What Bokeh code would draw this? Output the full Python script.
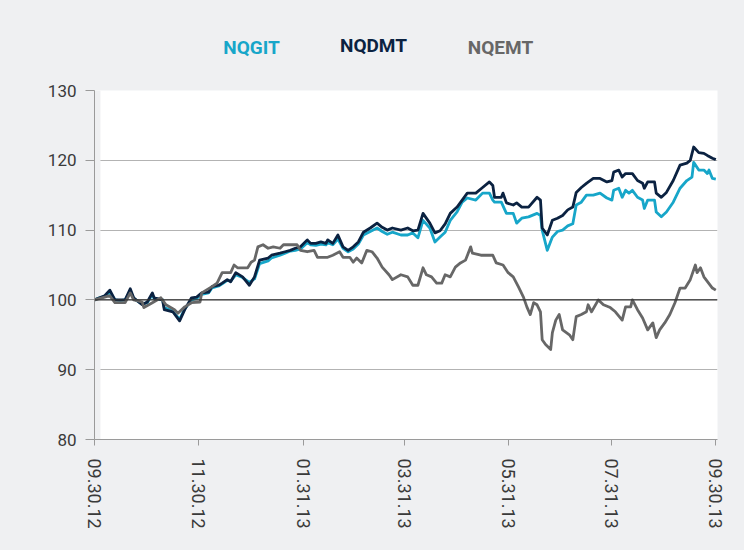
from bokeh.plotting import figure
from bokeh.layouts import column
from bokeh.models import Range1d, FixedTicker, Span, BoxAnnotation
from bokeh.core.properties import value
from bokeh.embed import file_html
from bokeh.resources import INLINE

# ---- data (day offset from 09.30.12, index value) ----
tick_days = [0, 61, 123, 182, 243, 304, 365]
tick_labels = ["09.30.12", "11.30.12", "01.31.13", "03.31.13", "05.31.13", "07.31.13", "09.30.13"]
y_ticks = [80, 90, 100, 110, 120, 130]

series_names = ["NQGIT", "NQDMT", "NQEMT"]

nqdmt = [(0,100.0),(3,100.3),(6,100.6),(9,101.4),(12,100.0),(15,100.0),(18,100.0),(21,101.6),(23,100.3),
         (28,99.3),(31,99.7),(34,101.0),(35,100.3),(40,100.0),(41,98.6),(46,98.3),(50,97.0),(53,98.6),
         (57,100.3),(60,100.4),(63,101.0),(67,101.1),(69,101.9),(73,102.1),(75,102.4),(78,102.9),(80,102.6),
         (83,103.9),(87,103.3),(91,102.1),(94,103.3),(97,105.7),(102,106.0),(104,106.4),(109,106.7),
         (112,106.9),(115,107.1),(118,107.4),(121,107.6),(125,108.6),(127,108.1),(130,108.1),(133,108.3),
         (136,108.1),(137,108.6),(140,108.1),(143,109.3),(146,107.6),(149,107.1),(152,107.6),(155,108.3),
         (158,109.7),(162,110.3),(166,111.0),(169,110.4),(172,110.0),(175,110.3),(180,110.0),(184,110.3),
         (187,109.9),(190,110.0),(193,112.4),(197,111.0),(200,109.6),(203,109.9),(206,110.9),(209,112.4),
         (213,113.3),(216,114.3),(219,115.3),(224,115.3),(228,116.1),(232,116.9),(234,116.4),(235,114.7),
         (239,114.7),(240,115.3),(242,113.9),(246,113.6),(248,113.9),(251,113.3),(255,113.3),(260,114.7),
         (262,114.3),(263,110.3),(266,109.3),(269,111.4),(272,111.7),(275,112.1),(278,112.9),(281,113.3),
         (283,115.4),(286,116.1),(289,116.7),(293,117.4),(297,117.4),(301,116.9),(304,117.1),(305,118.3),
         (308,118.6),(310,117.6),(312,118.1),(316,118.1),(319,117.1),(322,116.7),(323,116.0),(325,116.9),
         (329,116.9),(330,115.3),(333,114.7),(336,115.4),(340,117.1),(344,119.3),(348,119.6),(350,120.0),
         (352,121.9),(355,121.1),(358,121.0),(360,120.7),(363,120.3),(365,120.1)]

nqgit = [(0,100.0),(3,100.3),(6,100.5),(9,101.1),(12,100.0),(15,99.9),(18,100.0),(21,101.3),(23,100.2),
         (28,99.4),(31,99.6),(34,100.8),(35,100.2),(40,100.0),(41,98.9),(46,98.4),(50,97.2),(53,98.7),
         (57,100.0),(60,100.2),(63,100.8),(67,101.0),(69,101.7),(73,102.0),(75,102.3),(78,102.8),(80,102.7),
         (83,103.6),(87,103.2),(91,102.5),(94,103.0),(97,105.2),(102,105.6),(104,106.0),(109,106.4),
         (112,106.7),(115,107.0),(118,107.1),(121,107.3),(125,108.2),(127,107.9),(130,107.8),(133,108.0),
         (136,107.9),(137,108.2),(140,107.9),(143,108.7),(146,107.4),(149,106.9),(152,107.3),(155,108.0),
         (158,109.3),(162,109.8),(166,110.3),(169,109.8),(172,109.4),(175,109.7),(180,109.3),(184,109.3),
         (187,109.6),(190,108.9),(193,111.4),(197,110.3),(200,108.3),(203,109.0),(206,109.7),(209,111.4),
         (213,112.6),(216,114.0),(219,114.6),(224,114.3),(228,115.3),(232,115.3),(234,114.3),(235,114.0),
         (239,114.0),(242,112.4),(246,112.4),(248,111.0),(251,111.7),(255,111.9),(260,112.4),(262,112.1),
         (263,110.0),(266,107.1),(269,109.0),(272,109.8),(275,110.0),(278,110.6),(281,110.9),(283,113.6),
         (286,114.0),(289,115.0),(293,115.0),(297,115.3),(301,114.6),(304,114.3),(305,115.7),(308,116.0),
         (310,114.7),(312,115.7),(314,115.3),(316,115.7),(319,114.7),(322,114.3),(323,113.1),(325,114.3),
         (329,114.3),(330,112.6),(333,111.9),(336,112.6),(340,114.0),(344,116.0),(348,117.1),(351,117.6),
         (352,119.7),(355,118.6),(358,118.6),(360,118.1),(361,118.6),(363,117.4),(365,117.3)]

nqemt = [(0,100.0),(6,100.4),(9,100.6),(12,99.6),(18,99.6),(21,101.0),(23,100.0),(28,99.7),(29,98.9),
         (34,99.6),(39,100.3),(42,99.3),(47,98.6),(49,98.1),(53,99.0),(57,99.6),(62,99.7),(63,101.0),
         (69,101.9),(72,102.4),(75,103.9),(80,103.9),(82,105.0),(84,104.6),(90,104.6),(92,105.4),(94,105.7),
         (96,107.6),(99,107.9),(102,107.4),(105,107.6),(109,107.4),(111,107.9),(115,107.9),(119,107.9),
         (121,107.1),(125,106.9),(129,107.1),(131,106.1),(137,106.1),(140,106.4),(144,106.9),(146,106.1),
         (150,106.1),(152,105.4),(154,106.0),(157,105.3),(160,107.1),(163,106.9),(166,106.0),(169,104.7),
         (173,103.6),(175,102.9),(180,103.6),(184,103.3),(187,102.1),(190,102.1),(193,104.6),(195,103.6),
         (198,103.3),(201,102.4),(204,102.4),(206,103.6),(209,103.3),(212,104.7),(215,105.3),(218,105.7),
         (221,107.6),(222,106.7),(227,106.4),(231,106.4),(234,106.4),(236,105.3),(240,105.0),(243,103.9),
         (246,103.3),(249,101.9),(252,100.4),(254,99.0),(256,97.9),(258,99.6),(260,99.3),(262,98.3),
         (263,94.3),(265,93.6),(268,92.9),(269,95.3),(271,97.1),(273,97.9),(275,95.7),(279,95.0),(281,94.3),
         (283,97.6),(286,97.9),(289,98.3),(290,99.3),(292,98.3),(296,100.0),(299,99.3),(303,98.9),(306,98.3),
         (310,97.1),(312,99.0),(315,99.0),(316,100.0),(319,98.6),(322,97.4),(325,95.7),(328,96.7),(330,94.6),
         (332,95.7),(335,96.7),(338,97.9),(341,99.6),(344,101.7),(347,101.7),(350,102.9),(353,105.0),
         (354,103.9),(356,104.6),(358,103.3),(363,101.7),(365,101.4)]

colors = {"NQGIT": "#17a6c9", "NQDMT": "#0b2241", "NQEMT": "#676767"}
BG = "#eff0f2"
W = 744
LEFT, RIGHT = 94, 27

# ---- header figure carrying the coloured series names (x in page pixels) ----
hdr = figure(width=W, height=74, output_backend="svg", toolbar_location=None,
             x_range=Range1d(LEFT, W - RIGHT), y_range=Range1d(74, 0),
             min_border_left=LEFT, min_border_right=RIGHT, min_border_top=0, min_border_bottom=0)
hdr.axis.visible = False
hdr.grid.visible = False
hdr.outline_line_color = None
hdr.border_fill_color = BG
hdr.background_fill_color = BG
legend_x = [251, 373, 500]
legend_y = [47, 45, 47]
hdr.text(x=legend_x, y=legend_y, text=series_names,
         text_color=[colors[n] for n in series_names],
         text_font=value("Roboto"), text_font_style="bold", text_font_size="19px",
         text_align="center", text_baseline="middle")

# ---- main chart ----
p = figure(width=W, height=476, output_backend="svg", toolbar_location=None,
           x_range=Range1d(0, 366), y_range=Range1d(80, 130),
           min_border_left=LEFT, min_border_right=RIGHT, min_border_top=16, min_border_bottom=111)
p.border_fill_color = BG
p.background_fill_color = "white"
p.outline_line_color = None

# thin grey strip at start of plot area
p.add_layout(BoxAnnotation(left=0, right=3.5, fill_color=BG, fill_alpha=1, line_color=None, level="underlay"))

p.xgrid.grid_line_color = None
p.ygrid.ticker = FixedTicker(ticks=y_ticks)
p.ygrid.grid_line_color = "#b3b3b3"
p.ygrid.grid_line_width = 1

p.add_layout(Span(location=100, dimension="width", line_color="#333333", line_width=1.3))

for name, data in [("NQGIT", nqgit), ("NQDMT", nqdmt), ("NQEMT", nqemt)]:
    xs = [d for d, v in data]
    ys = [v for d, v in data]
    p.line(xs, ys, line_color=colors[name], line_width=2.8, line_join="round")

# axes
p.yaxis.ticker = FixedTicker(ticks=y_ticks)
p.yaxis.axis_line_color = "#9a9a9a"
p.yaxis.major_tick_line_color = "#9a9a9a"
p.yaxis.major_tick_out = 9
p.yaxis.major_tick_in = 0
p.yaxis.minor_tick_line_color = None
p.yaxis.major_label_standoff = 9
p.yaxis.major_label_text_font = "Roboto"
p.yaxis.major_label_text_font_size = "17px"
p.yaxis.major_label_text_color = "#3a3a3a"

p.xaxis.ticker = FixedTicker(ticks=tick_days)
p.xaxis.major_label_overrides = {d: l for d, l in zip(tick_days, tick_labels)}
p.xaxis.major_label_orientation = "vertical"
p.xaxis.axis_line_color = "#9a9a9a"
p.xaxis.major_tick_line_color = "#9a9a9a"
p.xaxis.major_tick_out = 6
p.xaxis.major_tick_in = 0
p.xaxis.minor_tick_line_color = None
p.xaxis.major_label_standoff = 13
p.xaxis.major_label_text_font = "Roboto"
p.xaxis.major_label_text_font_size = "18px"
p.xaxis.major_label_text_color = "#3a3a3a"

layout = column(hdr, p, spacing=0, styles={"background-color": BG})
open("out.html", "w").write(file_html(layout, INLINE))
